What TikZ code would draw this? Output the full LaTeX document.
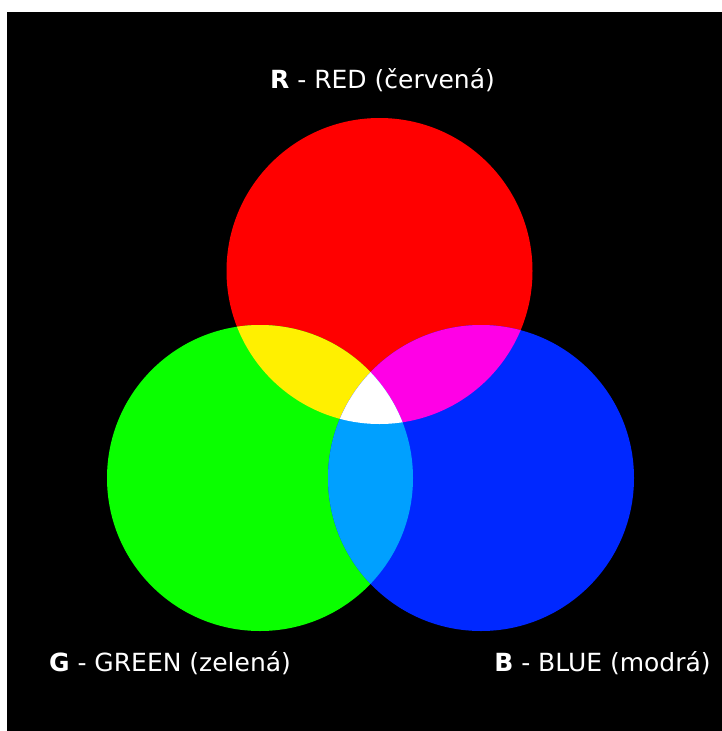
\documentclass[tikz,border=0pt]{standalone}
\usepackage{fontspec}
\setmainfont{DejaVu Sans}
\usetikzlibrary{positioning}
\tikzset{lbl/.style = {text = white, font = \fontsize{25}{30}\selectfont, inner sep = 0}}
\definecolor{mred}{RGB}{255, 0, 0}
\definecolor{mgreen}{RGB}{10, 255, 0}
\definecolor{mblue}{RGB}{0, 40, 255}
\definecolor{myellow}{RGB}{255, 240, 0}
\definecolor{mmagenta}{RGB}{255, 0, 230}
\definecolor{mcyan}{RGB}{0, 160, 255}

\begin{document}
\begin{tikzpicture}[x = 1pt, y = -1pt]
    \useasboundingbox (0, 0) rectangle (722, 731);
    \fill [white] (0, 0) rectangle (722, 731);
    \fill [black] (7, 12) rectangle (722, 731);

    \coordinate (r) at (379.5, 271);
    \coordinate (g) at (260, 478);
    \coordinate (b) at (481, 478);

    \fill [mred] (r) circle (153pt);
    \fill [mgreen] (g) circle (153pt);
    \fill [mblue] (b) circle (153pt);
    \begin{scope}
      \clip (r) circle (153pt);
      \fill [myellow] (g) circle (153pt);
      \fill [mmagenta] (b) circle (153pt);
    \end{scope}
    \begin{scope}
      \clip (g) circle (153pt);
      \fill [mcyan] (b) circle (153pt);
      \clip (b) circle (153pt);
      \fill [white] (r) circle (153pt);
    \end{scope}

    \node [lbl] (rlbl) at (382.5, 80) {\textbf{R} - RED (červená)};
    \node [lbl] (glbl) at (170, 663) {\textbf{G} - GREEN (zelená)};
    \node [lbl] (blbl) at (602.5, 663) {\textbf{B} - BLUE (modrá)};
  \end{tikzpicture}
\end{document}
